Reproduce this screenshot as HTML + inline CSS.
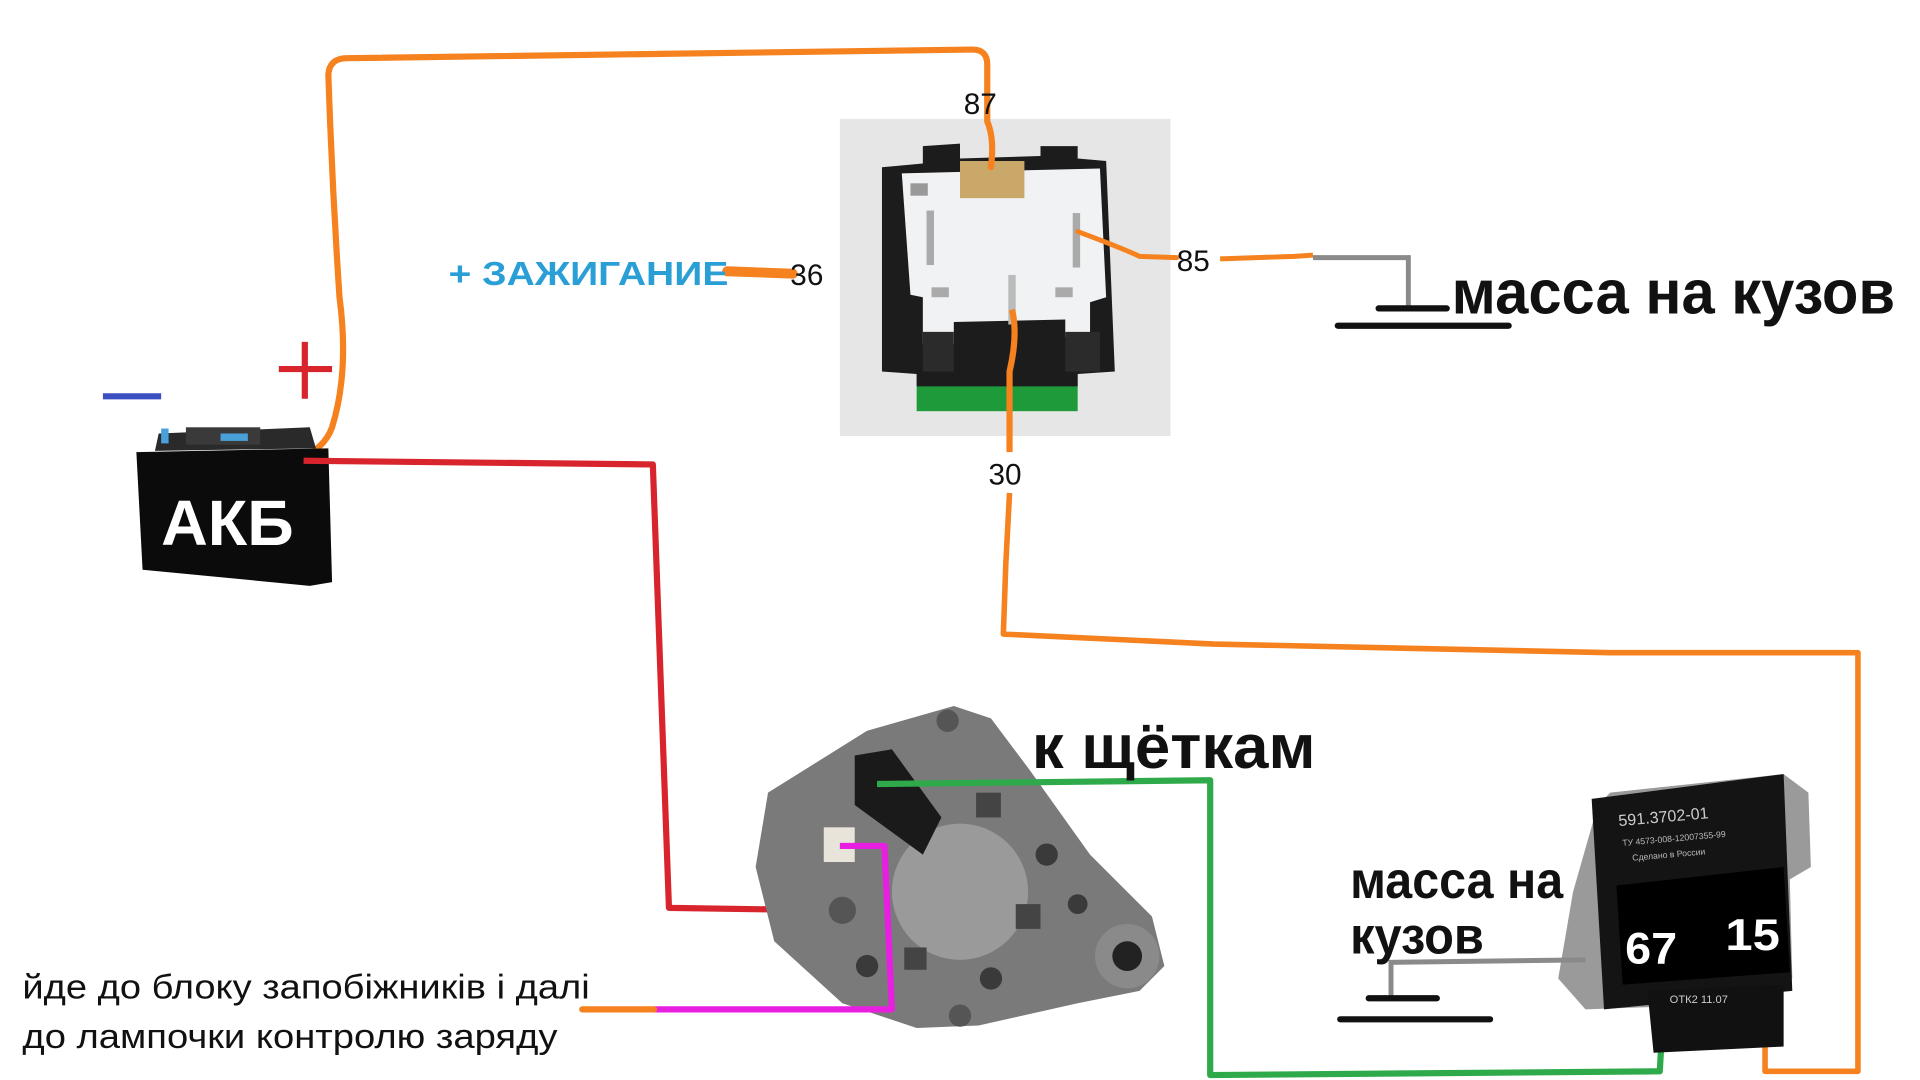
<!DOCTYPE html>
<html><head><meta charset="utf-8"><style>
html,body{margin:0;padding:0;background:#fff;}
svg{display:block}
text{font-family:"Liberation Sans","DejaVu Sans",sans-serif;}
</style></head><body>
<svg width="1920" height="1080" viewBox="0 0 1550 872" xmlns="http://www.w3.org/2000/svg">
<rect width="1550" height="872" fill="#fff"/>

<!-- Relay photo -->
<rect x="678" y="96" width="267" height="256" fill="#e6e6e6"/>
<rect x="740" y="290" width="130" height="42" fill="#1f9a3a"/>
<path d="M712 135 L745 132 L745 118 L775 116 L775 128 L840 126 L840 118 L870 118 L870 128 L893 130 L900 300 L870 302 L870 312 L740 312 L740 302 L712 300 Z" fill="#1c1c1c"/>
<path d="M728 140 L888 136 L893 240 L880 244 L880 270 L860 272 L860 258 L770 260 L770 278 L745 278 L745 240 L735 238 Z" fill="#f1f2f4"/>
<rect x="775" y="130" width="52" height="30" fill="#c9a86a"/>
<rect x="748" y="170" width="6" height="44" fill="#aaa"/>
<rect x="866" y="172" width="6" height="44" fill="#aaa"/>
<rect x="814" y="222" width="6" height="40" fill="#bbb"/>
<rect x="735" y="148" width="14" height="10" fill="#999"/>
<rect x="752" y="232" width="14" height="8" fill="#aaa"/>
<rect x="852" y="232" width="14" height="8" fill="#aaa"/>
<path d="M745 268 L770 268 L770 300 L745 300Z" fill="#2b2b2b"/>
<path d="M860 268 L888 268 L888 300 L860 300Z" fill="#2b2b2b"/>

<!-- Orange main 87 wire -->
<path d="M240 372 Q262 362 268 345 Q282 300 274 240 Q268 150 265 60 Q266 47 280 47 L785 40 Q797 40 797 52 L797 98 Q803 112 800 135" fill="none" stroke="#f5821f" stroke-width="5" stroke-linecap="round"/>
<!-- 85 -->
<path d="M870 187 Q905 200 920 207 L950 208" fill="none" stroke="#f5821f" stroke-width="4" stroke-linecap="round"/>
<path d="M985 209 L1045 207 L1060 206" fill="none" stroke="#f5821f" stroke-width="4"/>
<path d="M1060 208 L1137 208 L1137 248" fill="none" stroke="#8a8a8a" stroke-width="4"/>
<path d="M1113 249 L1168 249" stroke="#111" stroke-width="5" stroke-linecap="round"/>
<path d="M1080 263 L1218 263" stroke="#111" stroke-width="5" stroke-linecap="round"/>
<!-- 30 -->
<path d="M817 250 Q822 270 815 300 L815 365" fill="none" stroke="#f5821f" stroke-width="5"/>
<path d="M815 398 L812 455 L810 512 L980 520 L1300 527 L1500 527 L1500 865 L1425 865 L1425 790" fill="none" stroke="#f5821f" stroke-width="4.5" stroke-linejoin="round"/>
<!-- ignition stub -->
<path d="M587 219 L640 221" stroke="#f5821f" stroke-width="8" stroke-linecap="round"/>

<!-- Battery -->
<path d="M128 350 L250 345 L255 362 L125 364 Z" fill="#2a2a2a"/>
<rect x="150" y="345" width="60" height="14" fill="#3a3a3a"/>
<rect x="178" y="350" width="22" height="6" fill="#4aa0d8"/>
<rect x="130" y="346" width="6" height="12" fill="#4aa0d8"/>
<circle cx="240" cy="372" r="5" fill="#d33"/>
<path d="M110 365 L265 362 L268 470 L250 473 L115 460 Z" fill="#0b0b0b"/>
<text x="130" y="440" font-size="52" font-weight="bold" fill="#fff" textLength="107" lengthAdjust="spacingAndGlyphs">АКБ</text>
<path d="M83 320 L130 320" stroke="#3b4fc0" stroke-width="5"/>
<path d="M225 298 L268 298 M246 276 L246 322" stroke="#d8242c" stroke-width="5"/>

<!-- Red -->
<path d="M245 372 L527 375 L540 733 L670 735" fill="none" stroke="#d8242c" stroke-width="5" stroke-linejoin="round"/>

<!-- Alternator -->
<path d="M620 640 L700 590 L770 570 L800 580 L830 620 L880 690 L930 740 L940 780 L920 800 L870 810 L790 828 L740 830 L680 810 L625 760 L610 700 Z" fill="#7a7a7a"/>
<circle cx="775" cy="720" r="55" fill="#9a9a9a"/>
<circle cx="910" cy="772" r="26" fill="#8a8a8a"/>
<circle cx="910" cy="772" r="12" fill="#222"/>
<path d="M690 610 L720 605 L760 660 L745 690 L690 650 Z" fill="#1a1a1a"/>
<rect x="665" y="668" width="25" height="28" fill="#e8e4da"/>
<circle cx="765" cy="582" r="9" fill="#555"/>
<circle cx="680" cy="735" r="11" fill="#555"/>
<circle cx="775" cy="820" r="9" fill="#555"/>
<rect x="788" y="640" width="20" height="20" fill="#444"/>
<rect x="820" y="730" width="20" height="20" fill="#444"/>
<rect x="730" y="765" width="18" height="18" fill="#444"/>
<circle cx="845" cy="690" r="9" fill="#3a3a3a"/>
<circle cx="870" cy="730" r="8" fill="#3a3a3a"/>
<circle cx="800" cy="790" r="9" fill="#3a3a3a"/>
<circle cx="700" cy="780" r="9" fill="#3a3a3a"/>

<!-- Green -->
<path d="M708 633 L977 630 L977 868 L1340 865 L1342 830" fill="none" stroke="#2faa4a" stroke-width="5" stroke-linejoin="round"/>
<!-- Magenta -->
<path d="M678 683 L714 683 L720 815 L528 815" fill="none" stroke="#e81ee0" stroke-width="5" stroke-linejoin="round"/>
<path d="M470 815 L528 815" stroke="#f5821f" stroke-width="5" stroke-linecap="round"/>

<!-- Regulator -->
<path d="M1290 650 L1300 640 L1440 625 L1460 640 L1462 700 L1445 710 L1447 790 L1420 810 L1280 815 L1258 790 L1270 720 Z" fill="#9a9a9a"/>
<path d="M1285 645 L1440 625 L1447 800 L1295 815 Z" fill="#141414"/>
<path d="M1305 715 L1440 700 L1445 785 L1310 795 Z" fill="#000"/>
<path d="M1330 800 L1440 795 L1440 845 L1335 850 Z" fill="#111"/>
<text x="1307" y="667" font-size="13" fill="#ccc" transform="rotate(-5 1307 667)">591.3702-01</text>
<text x="1310" y="683" font-size="7" fill="#bbb" transform="rotate(-5 1310 683)">ТУ 4573-008-12007355-99</text>
<text x="1318" y="695" font-size="7" fill="#bbb" transform="rotate(-5 1318 695)">Сделано в России</text>
<text x="1312" y="778" font-size="36" font-weight="bold" fill="#fff" textLength="42" lengthAdjust="spacingAndGlyphs">67</text>
<text x="1393" y="767" font-size="36" font-weight="bold" fill="#fff" textLength="44" lengthAdjust="spacingAndGlyphs">15</text>
<text x="1348" y="810" font-size="9" fill="#ccc">ОТК2 11.07</text>

<path d="M1280 775 L1123 777 L1123 805" fill="none" stroke="#8a8a8a" stroke-width="4"/>
<path d="M1105 806 L1160 806" stroke="#111" stroke-width="5" stroke-linecap="round"/>
<path d="M1082 823 L1203 823" stroke="#111" stroke-width="5" stroke-linecap="round"/>

<!-- Labels -->
<text x="778" y="92" font-size="24" fill="#111">87</text>
<text x="638" y="230" font-size="24" fill="#111">36</text>
<text x="950" y="219" font-size="24" fill="#111">85</text>
<text x="798" y="391" font-size="24" fill="#111">30</text>
<text x="362" y="230" font-size="27" font-weight="bold" fill="#2a9fd6" textLength="226" lengthAdjust="spacingAndGlyphs">+ ЗАЖИГАНИЕ</text>
<text x="1172" y="253" font-size="50" font-weight="bold" fill="#111" textLength="358" lengthAdjust="spacingAndGlyphs">масса на кузов</text>
<text x="833" y="620" font-size="50" font-weight="bold" fill="#111" textLength="229" lengthAdjust="spacingAndGlyphs">к щёткам</text>
<text x="1090" y="725" font-size="42" font-weight="bold" fill="#111" textLength="172" lengthAdjust="spacingAndGlyphs">масса на</text>
<text x="1090" y="770" font-size="42" font-weight="bold" fill="#111" textLength="108" lengthAdjust="spacingAndGlyphs">кузов</text>
<text x="18" y="806" font-size="28" fill="#111" textLength="458" lengthAdjust="spacingAndGlyphs">йде до блоку запобіжників і далі</text>
<text x="18" y="846" font-size="28" fill="#111" textLength="432" lengthAdjust="spacingAndGlyphs">до лампочки контролю заряду</text>
</svg>
</body></html>
